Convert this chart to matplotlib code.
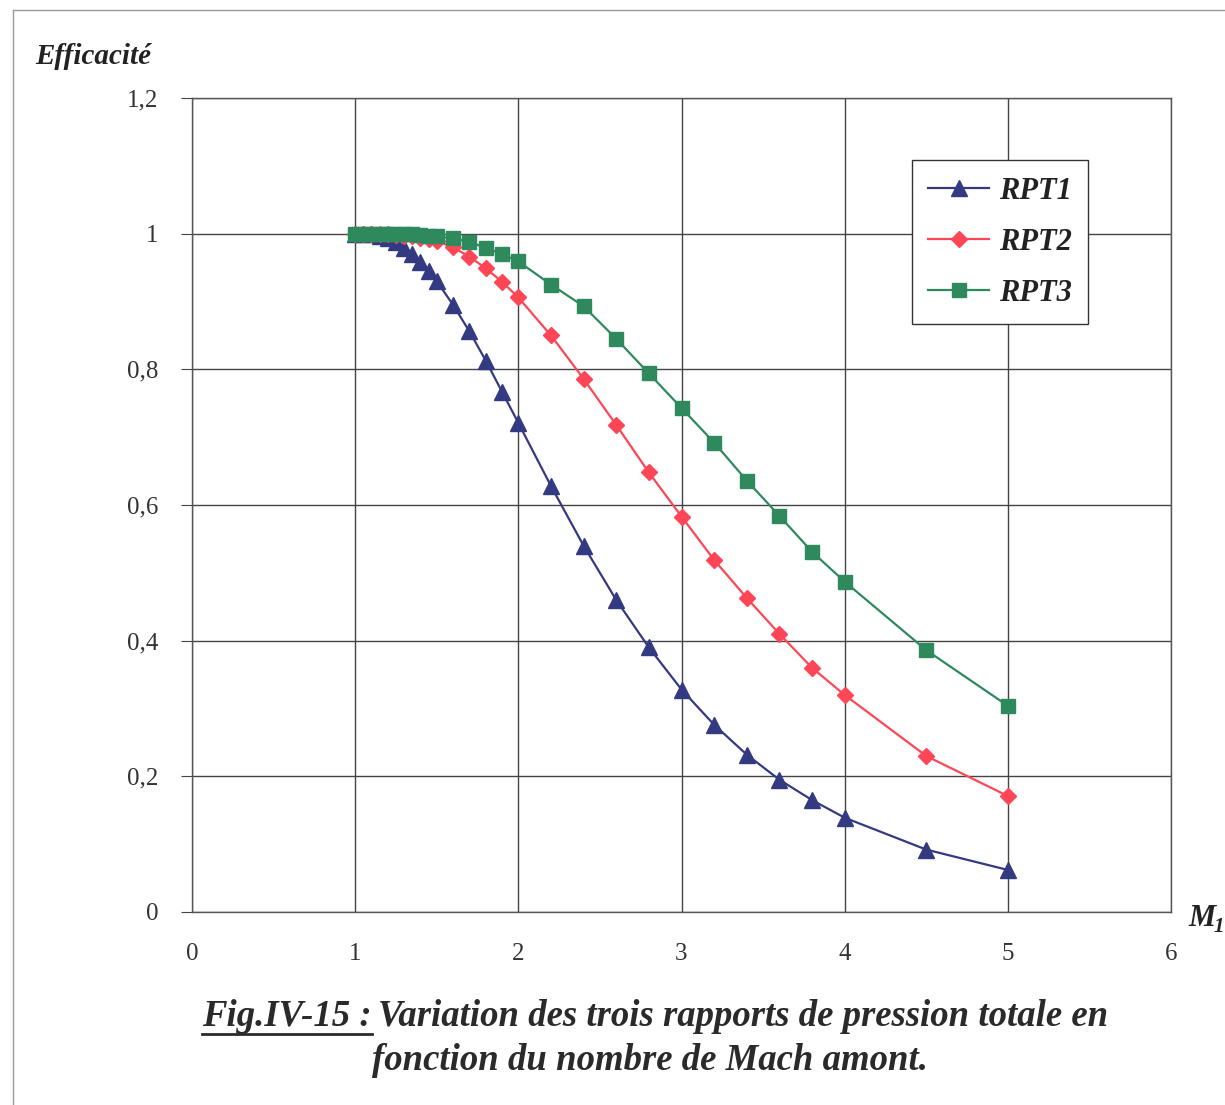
import numpy as np
import matplotlib.pyplot as plt
from matplotlib.ticker import FuncFormatter
from matplotlib.lines import Line2D

mach = [1.0, 1.05, 1.1, 1.15, 1.2, 1.25, 1.3, 1.35, 1.4, 1.45, 1.5,
        1.6, 1.7, 1.8, 1.9, 2.0, 2.2, 2.4, 2.6, 2.8, 3.0, 3.2, 3.4,
        3.6, 3.8, 4.0, 4.5, 5.0]
rpt1 = [1.0, 1.0, 0.999, 0.997, 0.993, 0.987, 0.979, 0.97, 0.958, 0.945, 0.93,
        0.895, 0.856, 0.813, 0.767, 0.721, 0.628, 0.54, 0.46, 0.39, 0.328,
        0.276, 0.232, 0.195, 0.165, 0.139, 0.092, 0.062]
rpt2 = [1.0, 1.0, 1.0, 0.999, 0.999, 0.998, 0.997, 0.996, 0.994, 0.992, 0.989,
        0.98, 0.966, 0.949, 0.929, 0.906, 0.85, 0.786, 0.718, 0.648, 0.583,
        0.519, 0.463, 0.41, 0.36, 0.32, 0.23, 0.171]
rpt3 = [1.0, 1.0, 1.0, 1.0, 1.0, 1.0, 0.999, 0.999, 0.998, 0.997, 0.996,
        0.993, 0.988, 0.979, 0.97, 0.959, 0.925, 0.893, 0.845, 0.794, 0.743,
        0.692, 0.636, 0.584, 0.531, 0.487, 0.386, 0.304]

serif = 'Liberation Serif'
plt.rcParams['font.family'] = serif

fig = plt.figure(figsize=(12.25, 11.05), dpi=100)
ax = fig.add_axes([192/1225, 1-912/1105, (1171-192)/1225, (912-98)/1105])

ax.plot(mach, rpt1, color='#343a82', linewidth=1.6, marker='^', markersize=11, label='RPT1')
ax.plot(mach, rpt2, color='#ff4657', linewidth=1.6, marker='D', markersize=8.5, label='RPT2')
ax.plot(mach, rpt3, color='#2e8a5c', linewidth=1.6, marker='s', markersize=10.5, label='RPT3')

ax.set_xlim(0, 6)
ax.set_ylim(0, 1.2)
ax.set_xticks(np.arange(0, 7, 1))
ax.set_yticks(np.arange(0, 1.4, 0.2))
ax.yaxis.set_major_formatter(FuncFormatter(lambda v, p: ('%g' % round(v, 1)).replace('.', ',')))
ax.grid(True, color='#444444', linewidth=1.0)
ax.tick_params(axis='both', labelsize=18, color='#444444', labelcolor='#333333')
ax.tick_params(axis='y', direction='out', length=8, pad=16)
ax.tick_params(axis='x', length=0, pad=22)
for s in ax.spines.values():
    s.set_color('#555555')
    s.set_linewidth(1.0)

leg = ax.legend(loc='upper left', bbox_to_anchor=(0.735, 0.924), frameon=True, fancybox=False,
                edgecolor='#333333', framealpha=1,
                prop={'family': serif, 'weight': 'bold', 'style': 'italic', 'size': 22},
                handlelength=2.0, labelspacing=0.72, borderpad=0.55, handletextpad=0.3,
                borderaxespad=0)
leg.get_frame().set_linewidth(1.0)
for t in leg.get_texts():
    t.set_color('#222222')

fig.text(35/1225, 1-57/1105, 'Efficacité', fontsize=21, fontweight='bold', fontstyle='italic',
         va='center', color='#222222')
fig.text(1188/1225, 1-918/1105, 'M', fontsize=22, fontweight='bold', fontstyle='italic', va='center',
         color='#222222')
fig.text(1214/1225, 1-927/1105, '1', fontsize=15, fontweight='bold', fontstyle='italic', va='center',
         color='#222222')

# caption
cap_kw = dict(fontsize=26.5, fontweight='bold', fontstyle='italic', va='center', color='#2a2a2a')
t1 = fig.text(202/1225, 1-1017/1105, 'Fig.IV-15 :', **cap_kw)
fig.canvas.draw()
bb = t1.get_window_extent()
fig.text(bb.x1/1225 + 6/1225, 1-1017/1105, 'Variation des trois rapports de pression totale en', **cap_kw)
fig.add_artist(Line2D([bb.x0/1225, bb.x1/1225], [(bb.y0 + 1)/1105, (bb.y0 + 1)/1105],
                      color='#2a2a2a', linewidth=2.0))
fig.text(650/1225, 1-1060/1105, 'fonction du nombre de Mach amont.', ha='center', **cap_kw)

# page border
fig.add_artist(Line2D([13/1225, 13/1225], [0, 1-10/1105], color='#999999', linewidth=1.0))
fig.add_artist(Line2D([13/1225, 1], [1-10/1105, 1-10/1105], color='#999999', linewidth=1.0))

plt.savefig('out.png')
